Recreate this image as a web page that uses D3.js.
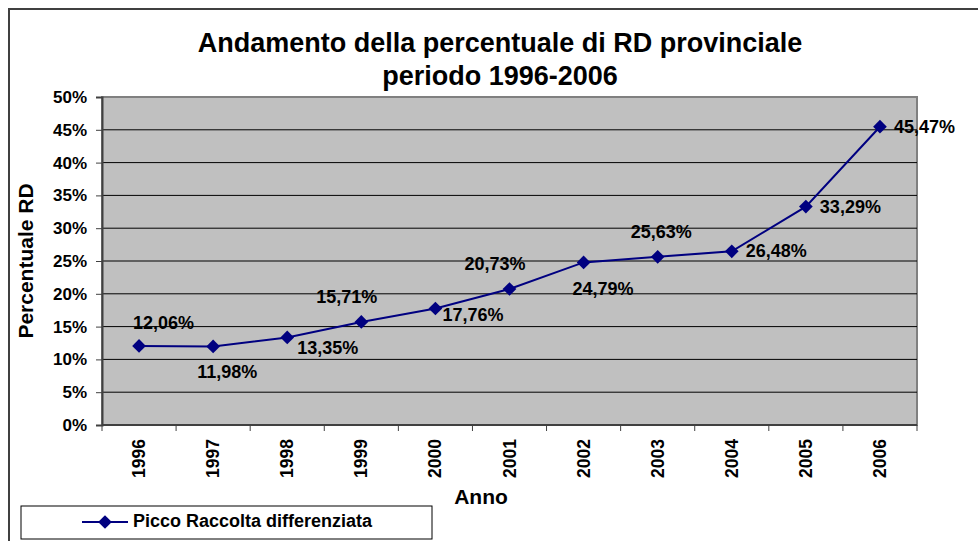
<!DOCTYPE html>
<html>
<head>
<meta charset="utf-8">
<script src="https://cdn.jsdelivr.net/npm/d3@7"></script>
<style>
  body { margin: 0; background: #fff; }
  text { font-family: "Liberation Sans", Arial, sans-serif; font-weight: bold; fill: #000; }
</style>
</head>
<body>
<div class="display"></div>
<script>
const WIDTH = 978;
const HEIGHT = 541;

const years = ['1996', '1997', '1998', '1999', '2000', '2001', '2002', '2003', '2004', '2005', '2006'];
const values = [12.06, 11.98, 13.35, 15.71, 17.76, 20.73, 24.79, 25.63, 26.48, 33.29, 45.47];
// where Excel put each data label relative to its point
const labelPlace = ['aboveLeft', 'belowLeft', 'belowRight', 'above', 'rightBelow', 'above', 'below', 'aboveMid', 'right', 'right', 'right'];
const yTicks = [0, 5, 10, 15, 20, 25, 30, 35, 40, 45, 50];

const plot = { left: 102, right: 917, top: 97, bottom: 425 };

const svg = d3.select('.display')
  .append('svg')
  .attr('width', WIDTH)
  .attr('height', HEIGHT);

// outer chart border
svg.append('rect')
  .attr('x', 9).attr('y', 9)
  .attr('width', 1100).attr('height', 700)
  .attr('fill', 'none')
  .attr('stroke', '#404040')
  .attr('stroke-width', 2);

const x = d3.scaleBand()
  .domain(years)
  .range([plot.left, plot.right]);

const y = d3.scaleLinear()
  .domain([0, 50])
  .range([plot.bottom, plot.top]);

// plot area
svg.append('rect')
  .attr('x', plot.left).attr('y', plot.top)
  .attr('width', plot.right - plot.left)
  .attr('height', plot.bottom - plot.top)
  .attr('fill', '#c0c0c0')
  .attr('stroke', '#808080')
  .attr('stroke-width', 2);

svg.append('g')
  .selectAll('line')
  .data(yTicks.filter(d => d > 0 && d < 50))
  .enter()
  .append('line')
  .attr('x1', plot.left).attr('x2', plot.right)
  .attr('y1', d => y(d)).attr('y2', d => y(d))
  .attr('stroke', '#000')
  .attr('stroke-width', 1);

// y axis
const yAxis = svg.append('g')
  .attr('transform', `translate(${plot.left},0)`)
  .call(d3.axisLeft(y).tickValues(yTicks).tickFormat(d => d + '%').tickSize(6).tickPadding(9));
yAxis.select('.domain').attr('stroke', '#404040').attr('stroke-width', 2);
yAxis.selectAll('.tick line').attr('stroke', '#404040');
yAxis.selectAll('.tick text')
  .style('font-size', '17px')
  .style('font-family', '"Liberation Sans", Arial, sans-serif')
  .style('font-weight', 'bold')
  .attr('fill', '#000');

// x axis: ticks between categories
const xAxis = svg.append('g')
  .attr('transform', `translate(0,${plot.bottom})`);
xAxis.append('line')
  .attr('x1', plot.left).attr('x2', plot.right)
  .attr('stroke', '#404040').attr('stroke-width', 2);
xAxis.selectAll('.tk')
  .data(years.concat(['end']))
  .enter()
  .append('line')
  .attr('class', 'tk')
  .attr('x1', (d, i) => plot.left + i * x.bandwidth())
  .attr('x2', (d, i) => plot.left + i * x.bandwidth())
  .attr('y1', 0).attr('y2', 6)
  .attr('stroke', '#404040');
xAxis.selectAll('text')
  .data(years)
  .enter()
  .append('text')
  .attr('transform', d => `translate(${x(d) + x.bandwidth() / 2 + 6},14) rotate(-90)`)
  .attr('text-anchor', 'end')
  .style('font-size', '17.5px')
  .text(d => d);

// titles
svg.append('text')
  .attr('x', 500).attr('y', 52)
  .attr('text-anchor', 'middle')
  .style('font-size', '27px')
  .text('Andamento della percentuale di RD provinciale');
svg.append('text')
  .attr('x', 500).attr('y', 85)
  .attr('text-anchor', 'middle')
  .style('font-size', '27px')
  .text('periodo 1996-2006');

svg.append('text')
  .attr('transform', 'translate(33,261) rotate(-90)')
  .attr('text-anchor', 'middle')
  .style('font-size', '21px')
  .text('Percentuale RD');

svg.append('text')
  .attr('x', 481).attr('y', 504)
  .attr('text-anchor', 'middle')
  .style('font-size', '21px')
  .text('Anno');

// series
const cx = d => x(d) + x.bandwidth() / 2;
const line = d3.line()
  .x((d, i) => cx(years[i]))
  .y(d => y(d));

svg.append('path')
  .datum(values)
  .attr('d', line)
  .attr('fill', 'none')
  .attr('stroke', '#000080')
  .attr('stroke-width', 2);

const diamond = d3.symbol().type(d3.symbolDiamond2).size(120);

svg.append('g')
  .selectAll('path')
  .data(values)
  .enter()
  .append('path')
  .attr('d', diamond)
  .attr('transform', (d, i) => `translate(${cx(years[i])},${y(d)})`)
  .attr('fill', '#000080');

const offsets = {
  aboveLeft: [-6, -17],
  above: [-45, -19],
  aboveMid: [-27, -19],
  below: [-11, 33],
  belowLeft: [-16, 32],
  belowRight: [10, 17],
  rightBelow: [7, 13],
  right: [14, 6]
};
const fmt = d => d.toFixed(2).replace('.', ',') + '%';

svg.append('g')
  .selectAll('text')
  .data(values)
  .enter()
  .append('text')
  .attr('x', (d, i) => cx(years[i]) + offsets[labelPlace[i]][0])
  .attr('y', (d, i) => y(d) + offsets[labelPlace[i]][1])
  .style('font-size', '18px')
  .text(fmt);

// legend
const legend = svg.append('g');
legend.append('rect')
  .attr('x', 21).attr('y', 506)
  .attr('width', 411).attr('height', 33)
  .attr('fill', '#fff')
  .attr('stroke', '#000')
  .attr('stroke-width', 1);
legend.append('line')
  .attr('x1', 82).attr('x2', 128)
  .attr('y1', 522).attr('y2', 522)
  .attr('stroke', '#000080').attr('stroke-width', 2);
legend.append('path')
  .attr('d', diamond)
  .attr('transform', 'translate(105,522)')
  .attr('fill', '#000080');
legend.append('text')
  .attr('x', 133).attr('y', 527)
  .style('font-size', '18px')
  .text('Picco Raccolta differenziata');
</script>
</body>
</html>
